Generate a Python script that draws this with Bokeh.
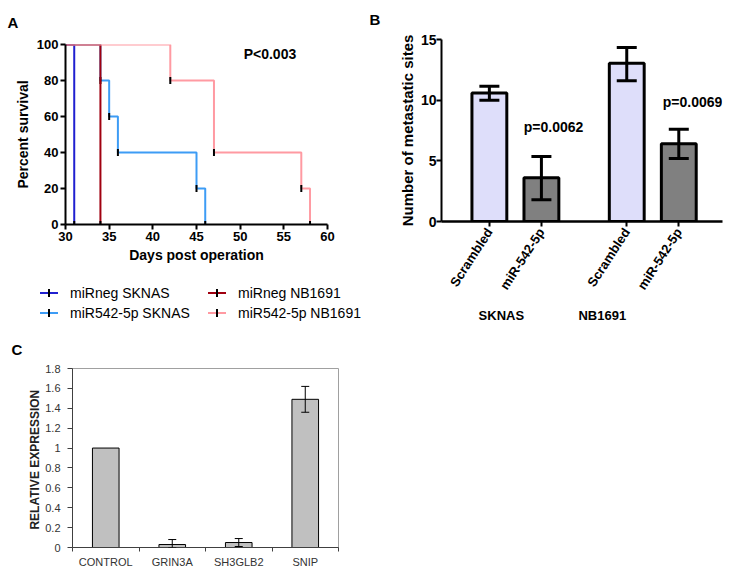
import math
from bokeh.plotting import figure
from bokeh.models import (Range1d, FixedTicker, Label, Title, Div,
                          ColumnDataSource, Whisker, TeeHead, LinearAxis,
                          NumeralTickFormatter, CustomJSTickFormatter)
from bokeh.layouts import row, column
from bokeh.embed import file_html
from bokeh.resources import INLINE

FONT = "Liberation Sans"
NAN = float("nan")

# ---------------- Panel A data (Kaplan-Meier) ----------------
sk_neg_days = [30, 31]
sk_neg_surv = [100, 0]
nb_neg_days = [30, 34]
nb_neg_surv = [100, 0]
sk_542_days = [30, 34, 35, 36, 45, 46]
sk_542_surv = [100, 80, 60, 40, 20, 0]
nb_542_days = [30, 42, 47, 57, 58]
nb_542_surv = [100, 80, 40, 20, 0]
a_series_names = ["miRneg SKNAS", "miR542-5p SKNAS", "miRneg NB1691", "miR542-5p NB1691"]
a_colors = ["#2020d0", "#3d9cf5", "#a00010", "#ff9aa2"]
a_x_ticks = [30, 35, 40, 45, 50, 55, 60]
a_y_ticks = [0, 20, 40, 60, 80, 100]
a_pvalue = "P<0.003"

# ---------------- Panel B data ----------------
b_cell_lines = ["SKNAS", "NB1691"]
b_treatments = ["Scrambled", "miR-542-5p"]
b_means = [10.6, 3.6, 13.05, 6.4]
b_lower = [10.0, 1.8, 11.6, 5.2]
b_upper = [11.15, 5.35, 14.35, 7.6]
b_pvalues = ["p=0.0062", "p=0.0069"]
b_y_ticks = [0, 5, 10, 15]

# ---------------- Panel C data ----------------
c_genes = ["CONTROL", "GRIN3A", "SH3GLB2", "SNIP"]
c_expr = [1.0, 0.03, 0.05, 1.49]
c_err_low = [NAN, 0.0, 0.01, 1.36]
c_err_high = [NAN, 0.08, 0.09, 1.62]
c_y_ticks = [0, 0.2, 0.4, 0.6, 0.8, 1.0, 1.2, 1.4, 1.6, 1.8]


def bold_axis(ax, tick_size="13px", label_size="14px"):
    ax.axis_line_width = 2
    ax.axis_line_color = "black"
    ax.major_tick_line_width = 2
    ax.major_tick_line_color = "black"
    ax.major_tick_out = 5
    ax.major_tick_in = 0
    ax.minor_tick_line_color = None
    ax.major_label_text_font = FONT
    ax.major_label_text_font_style = "bold"
    ax.major_label_text_font_size = tick_size
    ax.major_label_text_color = "black"
    ax.axis_label_text_font = FONT
    ax.axis_label_text_font_style = "bold"
    ax.axis_label_text_font_size = label_size
    ax.axis_label_text_color = "black"


def panel_letter(p, letter, offset, standoff):
    p.add_layout(Title(text=letter, align="left", vertical_align="top", offset=offset,
                       standoff=standoff, text_font=FONT, text_font_style="bold",
                       text_font_size="15px", text_color="black"), "above")


# ======================= Panel A =======================
pa = figure(width=365, height=270, x_range=Range1d(30, 60), y_range=Range1d(0, 100),
            output_backend="svg", toolbar_location=None,
            min_border_left=65, min_border_right=38, min_border_top=44, min_border_bottom=46)
pa.grid.visible = False
pa.outline_line_color = None
panel_letter(pa, "A", -58, 24)

draw_order = [1, 0, 2, 3]
curves = [(sk_neg_days, sk_neg_surv), (sk_542_days, sk_542_surv),
          (nb_neg_days, nb_neg_surv), (nb_542_days, nb_542_surv)]
for i in draw_order:
    days, surv = curves[i]
    pa.step(days, surv, mode="after", line_color=a_colors[i], line_width=2)
    pa.scatter(days[1:], surv[1:], marker="dash", angle=math.pi / 2, size=7,
               line_color="black", line_width=2)

bold_axis(pa.xaxis[0])
bold_axis(pa.yaxis[0])
pa.xaxis.ticker = FixedTicker(ticks=a_x_ticks)
pa.yaxis.ticker = FixedTicker(ticks=a_y_ticks)
pa.xaxis.axis_label = "Days post operation"
pa.yaxis.axis_label = "Percent survival"
pa.xaxis.major_label_standoff = 2
pa.yaxis.major_label_standoff = 2
pa.xaxis.axis_label_standoff = 3
pa.yaxis.axis_label_standoff = 3
pa.add_layout(Label(x=50.4, y=95, text=a_pvalue, text_font=FONT, text_font_style="bold",
                    text_font_size="14px", text_color="black",
                    text_align="left", text_baseline="middle"))

# legend of panel A (two columns, line sample with a tick mark)
leg_parts = []
for i, (name, col) in enumerate(zip(a_series_names, a_colors)):
    left = 35 + (i // 2) * 168
    top = 8 + (i % 2) * 20
    leg_parts.append(
        f'<div style="position:absolute;left:{left}px;top:{top}px;height:20px;'
        f'line-height:20px;white-space:nowrap;">'
        f'<span style="position:absolute;left:0;top:9px;width:18px;height:2px;'
        f'background:{col};"></span>'
        f'<span style="position:absolute;left:8px;top:6px;width:2px;height:8px;'
        f'background:#000;"></span>'
        f'<span style="position:absolute;left:30px;top:0;">{name}</span></div>')
leg_html = (f'<div style="position:relative;width:355px;height:50px;'
            f'font-family:\'{FONT}\',sans-serif;font-size:14px;color:#000;">'
            + "".join(leg_parts) + '</div>')
pleg = Div(text=leg_html, width=355, height=50)

# ======================= Panel B =======================
b_group_gap = 0.64
b_pos = [g * (len(b_treatments) + b_group_gap) + t
         for g in range(len(b_cell_lines)) for t in range(len(b_treatments))]
b_labels = [t for g in b_cell_lines for t in b_treatments]
b_colors = ["#dedefa" if t == b_treatments[0] else "#808080" for t in b_labels]
b_src = ColumnDataSource(dict(x=b_pos, top=b_means, lower=b_lower, upper=b_upper,
                              color=b_colors))
pb = figure(width=364, height=330, x_range=Range1d(-0.92, 4.48),
            y_range=Range1d(0, 15), output_backend="svg", toolbar_location=None,
            min_border_left=76, min_border_right=7, min_border_top=39, min_border_bottom=109)
pb.grid.visible = False
pb.outline_line_color = None
panel_letter(pb, "B", -72, 19)
pb.vbar(x="x", top="top", width=0.67, source=b_src, fill_color="color",
        line_color="black", line_width=3)
pb.add_layout(Whisker(base="x", lower="lower", upper="upper", source=b_src,
                      line_width=3, line_color="black", level="annotation",
                      upper_head=TeeHead(size=20, line_width=3, line_color="black"),
                      lower_head=TeeHead(size=20, line_width=3, line_color="black")))
label_js = """
let best = 0;
for (let i = 0; i < pos.length; i++)
    if (Math.abs(pos[i] - tick) < Math.abs(pos[best] - tick)) best = i;
return labels[best];
"""
bx = pb.xaxis[0]
bx.ticker = FixedTicker(ticks=b_pos)
bx.formatter = CustomJSTickFormatter(args=dict(pos=b_pos, labels=b_labels), code=label_js)
bold_axis(bx, tick_size="13px")
bx.axis_line_width = 2.5
bx.major_label_orientation = math.radians(57)
bx.major_label_standoff = 3
bold_axis(pb.yaxis[0], tick_size="14px", label_size="15px")
pb.yaxis.ticker = FixedTicker(ticks=b_y_ticks)
pb.yaxis.axis_label = "Number of metastatic sites"
pb.yaxis.major_label_standoff = 0
pb.yaxis.axis_label_standoff = 2

# cell line names on a second, line-less axis under the bar labels
b_group_label_x = [0.23, 2.17]
gx = LinearAxis(ticker=FixedTicker(ticks=b_group_label_x),
                formatter=CustomJSTickFormatter(args=dict(pos=b_group_label_x,
                                                          labels=b_cell_lines), code=label_js))
bold_axis(gx, tick_size="13px")
gx.axis_line_color = None
gx.major_tick_line_color = None
gx.major_tick_out = 0
gx.major_label_standoff = 8
pb.add_layout(gx, "below")

for txt, xs, ys in [(b_pvalues[0], 112, 95), (b_pvalues[1], 251, 120)]:
    pb.add_layout(Label(x=xs, y=ys, x_units="screen", y_units="screen", text=txt,
                        text_font=FONT, text_font_style="bold", text_font_size="14px",
                        text_color="black", text_align="center", text_baseline="middle"))

# ======================= Panel C =======================
c_pos = [i + 0.5 for i in range(len(c_genes))]        # category centres on a 0..n axis
c_src = ColumnDataSource(dict(x=c_pos, top=c_expr, lower=c_err_low, upper=c_err_high))
pc = figure(width=352, height=244, x_range=Range1d(0, len(c_genes)),
            y_range=Range1d(0, 1.8), output_backend="svg", toolbar_location=None,
            min_border_left=72, min_border_right=14, min_border_top=38, min_border_bottom=27)
pc.grid.visible = False
pc.outline_line_color = "#a0a0a0"
panel_letter(pc, "C", -61, 18)
pc.vbar(x="x", top="top", width=0.4, source=c_src, fill_color="#c0c0c0",
        line_color="black", line_width=1)
pc.add_layout(Whisker(base="x", lower="lower", upper="upper", source=c_src,
                      line_width=1, line_color="black", level="annotation",
                      upper_head=TeeHead(size=8, line_width=1, line_color="black"),
                      lower_head=TeeHead(size=8, line_width=1, line_color="black")))
cx = pc.xaxis[0]
cx.ticker = FixedTicker(ticks=c_pos, minor_ticks=list(range(len(c_genes) + 1)))
cx.formatter = CustomJSTickFormatter(args=dict(pos=c_pos, labels=c_genes), code=label_js)
for ax in (cx, pc.yaxis[0]):
    ax.axis_line_color = "#404040"
    ax.axis_line_width = 1
    ax.major_tick_line_color = "#404040"
    ax.major_tick_out = 5
    ax.major_tick_in = 0
    ax.major_label_text_font = FONT
    ax.major_label_text_font_size = "11px"
    ax.major_label_text_color = "#333333"
    ax.major_label_standoff = 4
cx.major_tick_line_color = None
cx.major_tick_out = 4
cx.minor_tick_line_color = "#404040"
cx.minor_tick_out = 4
cx.minor_tick_in = 0
pc.yaxis.major_label_standoff = 7
pc.yaxis.minor_tick_line_color = None
pc.yaxis.ticker = FixedTicker(ticks=c_y_ticks)
pc.yaxis.formatter = NumeralTickFormatter(format="0.[0]")
pc.yaxis.axis_label = "RELATIVE  EXPRESSION"
pc.yaxis.axis_label_text_font = FONT
pc.yaxis.axis_label_text_font_style = "bold"
pc.yaxis.axis_label_text_font_size = "12px"
pc.yaxis.axis_label_text_color = "#222222"
pc.yaxis.axis_label_standoff = 0

layout = column(row(column(pa, pleg), pb), row(pc))
open("out.html", "w").write(file_html(layout, INLINE))
